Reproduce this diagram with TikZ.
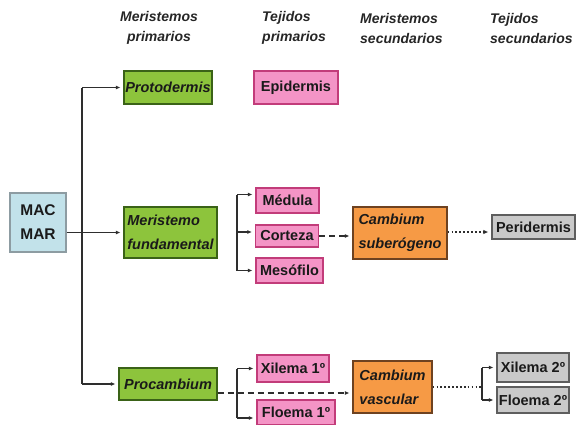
\documentclass[tikz,border=0pt]{standalone}
\usepackage{fontspec}
\setmainfont{Liberation Sans}
\usetikzlibrary{arrows.meta}
\definecolor{gfill}{HTML}{8DC43C}
\definecolor{gdraw}{HTML}{3A6217}
\definecolor{pfill}{HTML}{F494C6}
\definecolor{pdraw}{HTML}{C23C7A}
\definecolor{ofill}{HTML}{F69A45}
\definecolor{odraw}{HTML}{6E4220}
\definecolor{sfill}{HTML}{C9C9C9}
\definecolor{sdraw}{HTML}{5E5E5E}
\definecolor{bfill}{HTML}{C2E2EA}
\definecolor{bdraw}{HTML}{8D9CA2}
\definecolor{lcol}{HTML}{2E2E2E}
\definecolor{tcol}{HTML}{1A1A1A}
\definecolor{hcol}{HTML}{262626}
\begin{document}
\begin{tikzpicture}[x=1pt,y=-1pt,
  box/.style={draw, line width=1.2pt, inner sep=0pt, text=tcol,
    font=\fontsize{14.5}{24}\selectfont\bfseries},
  ibox/.style={box, font=\fontsize{14.5}{24}\selectfont\bfseries\itshape},
  green/.style={ibox, fill=gfill, draw=gdraw},
  pinkbox/.style={box, fill=pfill, draw=pdraw},
  orange/.style={ibox, fill=ofill, draw=odraw, align=left},
  greybox/.style={box, fill=sfill, draw=sdraw},
  head/.style={font=\fontsize{14}{20}\selectfont\bfseries\itshape, text=hcol, inner sep=0pt},
  conn/.style={draw=lcol, line width=1.1pt},
  arr/.style={conn, -{Latex[length=4.5pt,width=4pt]}, shorten >=3pt},
  dasharr/.style={arr, dash pattern=on 6pt off 4pt},
  dotline/.style={conn, line width=1.7pt, dash pattern=on 1.7pt off 2.2pt},
  dotarr/.style={dotline, -{Latex[length=5pt,width=4.5pt]}, shorten >=3pt}
]
\useasboundingbox (0,0) rectangle (576,424);

% headers
\node[head, align=center] (h1) at (159,28) {Meristemos\\primarios};
\node[head, align=left, anchor=west] (h2) at (262,28) {Tejidos\\primarios};
\node[head, align=left, anchor=west] (h3) at (360,28) {Meristemos\\secundarios};
\node[head, align=left, anchor=west] (h4) at (490,28) {Tejidos\\secundarios};

% boxes
\node[box, fill=bfill, draw=bdraw, align=center, minimum width=56pt, minimum height=59pt,
      font=\fontsize{15.5}{24}\selectfont\bfseries] (mac) at (38,222.5) {MAC\\MAR};
\node[green, minimum width=88pt, minimum height=33pt] (proto) at (168,87.5) {Protodermis};
\node[green, align=left, minimum width=93pt, minimum height=51pt] (fund) at (170.5,232.5) {Meristemo\\fundamental};
\node[green, minimum width=98pt, minimum height=32pt] (proc) at (168,384) {Procambium};

\node[pinkbox, minimum width=84pt, minimum height=33pt] (epi) at (296,87.5) {Epidermis};
\node[pinkbox, minimum width=63pt, minimum height=25pt] (med) at (287.5,200.5) {Médula};
\node[pinkbox, minimum width=63pt, minimum height=22pt] (cor) at (287,236) {Corteza};
\node[pinkbox, minimum width=67pt, minimum height=25pt] (mes) at (289.5,270.5) {Mesófilo};
\node[pinkbox, minimum width=72pt, minimum height=27pt] (xil1) at (293,368.5) {Xilema 1º};
\node[pinkbox, minimum width=78pt, minimum height=25pt] (flo1) at (296,412.5) {Floema 1º};

\node[orange, minimum width=94pt, minimum height=52pt] (csub) at (400,233) {Cambium\\suberógeno};
\node[orange, minimum width=79pt, minimum height=52pt] (cvas) at (392.5,387) {Cambium\\vascular};

\node[greybox, minimum width=83pt, minimum height=24pt] (peri) at (533.5,227) {Peridermis};
\node[greybox, minimum width=72pt, minimum height=29pt] (xil2) at (533,367.5) {Xilema 2º};
\node[greybox, minimum width=72pt, minimum height=26pt] (flo2) at (533,400) {Floema 2º};

% attachment points
\coordinate (medA) at ([yshift=6pt]med.west);
\coordinate (corA) at ([yshift=4pt]cor.west);
\coordinate (floA) at ([yshift=-5.5pt]flo1.west);
\coordinate (procA) at ([yshift=-9pt]proc.east);
\coordinate (csubA) at ([yshift=1pt]csub.east);

% trunk from MAC/MAR
\coordinate (t) at (82,0);
\draw[conn] (t |- proto.west) -- (t |- proc.west);
\draw[arr] (t |- proto.west) -- (proto.west);
\draw[arr] (t |- proc.west) -- (proc.west);
\draw[arr] (mac.east |- fund.west) -- (fund.west);

% bracket 1
\coordinate (b1) at (237,0);
\draw[conn] (b1 |- medA) -- (b1 |- mes.west);
\draw[arr] (b1 |- medA) -- (medA);
\draw[arr] (b1 |- corA) -- (corA);
\draw[arr] (b1 |- mes.west) -- (mes.west);

% bracket 2
\draw[conn] (b1 |- xil1.west) -- (b1 |- floA);
\draw[arr] (b1 |- xil1.west) -- (xil1.west);
\draw[arr] (b1 |- floA) -- (floA);

% dashed connectors
\draw[dasharr] (cor.east) -- (cor.east -| csub.west);
\draw[dasharr] (procA) -- (procA -| cvas.west);

% dotted connectors
\draw[dotarr] (csubA) -- (csubA -| peri.west);
\coordinate (b3) at (482,0);
\draw[dotline] (cvas.east) -- (cvas.east -| b3);
\draw[conn] (b3 |- xil2.west) -- (b3 |- flo2.west);
\draw[arr] (b3 |- xil2.west) -- (xil2.west);
\draw[arr] (b3 |- flo2.west) -- (flo2.west);
\end{tikzpicture}
\end{document}
